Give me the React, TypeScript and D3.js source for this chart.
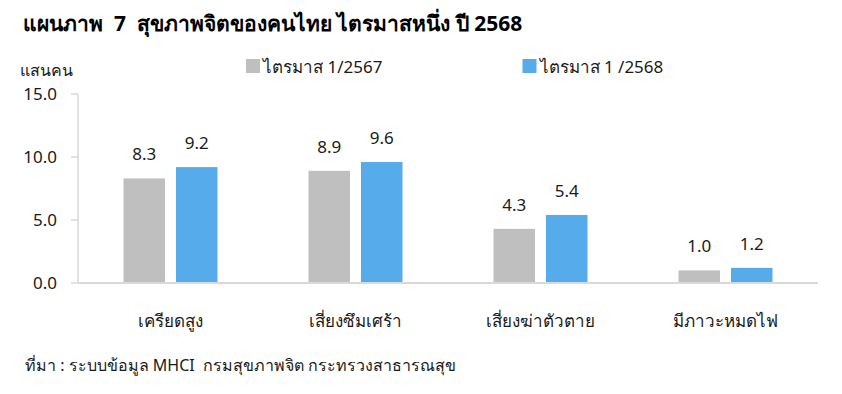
import React from "react";
import * as d3 from "d3";

const categories = ["เครียดสูง", "เสี่ยงซึมเศร้า", "เสี่ยงฆ่าตัวตาย", "มีภาวะหมดไฟ"];
const series2567 = [8.3, 8.9, 4.3, 1.0];
const series2568 = [9.2, 9.6, 5.4, 1.2];
const seriesNames = ["ไตรมาส 1/2567", "ไตรมาส 1 /2568"];
const yTicks = [0, 5, 10, 15];
const title = "แผนภาพ  7  สุขภาพจิตของคนไทย ไตรมาสหนึ่ง ปี 2568";
const unitLabel = "แสนคน";
const source = "ที่มา : ระบบข้อมูล MHCI  กรมสุขภาพจิต กระทรวงสาธารณสุข";

const W = 842;
const H = 394;
const colors = ["#BFBFBF", "#56ACEB"];
const FONT = "Tahoma, 'Noto Sans', 'DejaVu Sans', sans-serif";

export default function App() {
  const left = 78;
  const right = 818;
  const top = 94;
  const bottom = 283;
  const x = d3.scaleBand<string>().domain(categories).range([left, right]);
  const y = d3.scaleLinear().domain([0, 15]).range([bottom, top]);
  const barW = 41.5;
  const gap = 11;
  const all = [series2567, series2568];

  return (
    <div style={{ margin: -8 }}>
      <svg width={W} height={H} style={{ display: "block", fontFamily: FONT }}>
        <rect width={W} height={H} fill="#fff" />
        <text x={23} y={31} fontSize={21} fontWeight="bold" fill="#000" xmlSpace="preserve">
          {title}
        </text>
        <text x={20} y={76} fontSize={16} fill="#1a1a1a">
          {unitLabel}
        </text>
        {seriesNames.map((n, i) => {
          const lx = i === 0 ? 246 : 522.5;
          return (
            <g key={n}>
              <rect x={lx} y={59} width={14} height={14} fill={colors[i]} />
              <text x={lx + 17} y={72.5} fontSize={17} fill="#1a1a1a">
                {n}
              </text>
            </g>
          );
        })}
        <line x1={left} x2={left} y1={top} y2={bottom} stroke="#D9D9D9" strokeWidth={1.5} />
        {yTicks.map((t) => (
          <g key={t}>
            <line x1={71} x2={left} y1={y(t)} y2={y(t)} stroke="#D9D9D9" strokeWidth={1.5} />
            <text x={57} y={y(t) + 6} fontSize={17} textAnchor="end" fill="#1a1a1a">
              {t.toFixed(1)}
            </text>
          </g>
        ))}
        {categories.map((c, ci) => {
          const cx = (x(c) as number) + x.bandwidth() / 2;
          return (
            <g key={c}>
              {all.map((s, si) => {
                const bx = si === 0 ? cx - gap / 2 - barW : cx + gap / 2;
                const v = s[ci];
                return (
                  <g key={si}>
                    <rect x={bx} y={y(v)} width={barW} height={bottom - y(v)} fill={colors[si]} />
                    <text x={bx + barW / 2} y={y(v) - 18} fontSize={17} textAnchor="middle" fill="#1a1a1a">
                      {v.toFixed(1)}
                    </text>
                  </g>
                );
              })}
              <text x={cx} y={327} fontSize={17} textAnchor="middle" fill="#1a1a1a">
                {c}
              </text>
            </g>
          );
        })}
        <line x1={left} x2={right} y1={bottom} y2={bottom} stroke="#D9D9D9" strokeWidth={2} />
        <text x={25} y={371} fontSize={16} fill="#1a1a1a" xmlSpace="preserve">
          {source}
        </text>
      </svg>
    </div>
  );
}
